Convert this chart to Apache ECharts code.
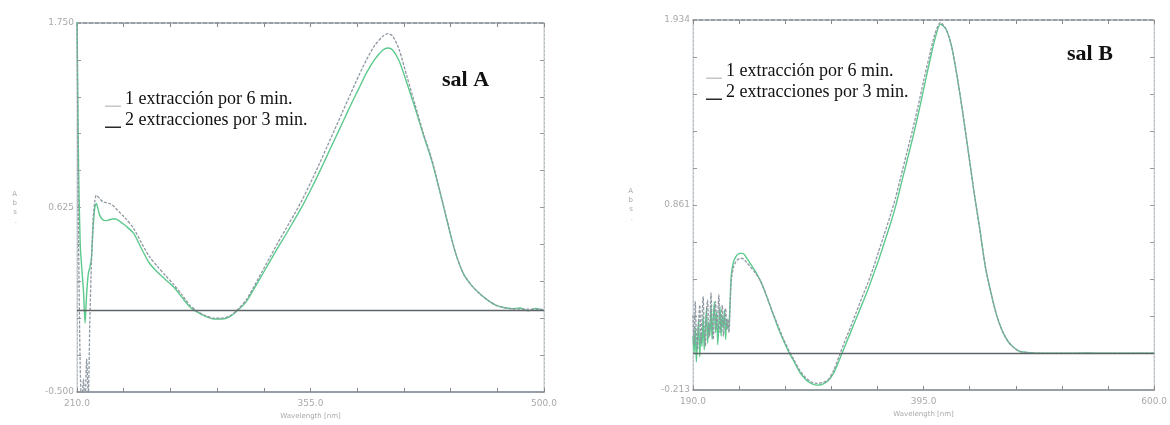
<!DOCTYPE html>
<html>
<head>
<meta charset="utf-8">
<script src="https://cdn.jsdelivr.net/npm/echarts@6/dist/echarts.min.js"></script>
<style>html,body{margin:0;padding:0;background:#fff;}#c{width:1170px;height:425px;}</style>
</head>
<body>
<div id="c"></div>
<script>
// ---------- DATA ----------
const seriesNames = ['1 extracción por 6 min.', '2 extracciones por 3 min.'];
const panelTitles = ['sal A', 'sal B'];

// sal A : wavelength (nm)
const wlA = [210, 210.5, 211, 212, 213, 214, 215, 216, 217, 218, 219, 220, 221, 222,
  224, 226, 228, 230, 232, 234, 236, 238, 240,
  245, 250, 255, 260, 265, 270, 275, 280, 285, 290, 295, 300, 305, 310, 315, 320, 325, 330, 335, 340,
  345, 350, 355, 360, 365, 370, 375, 380, 385, 390, 395, 400,
  403, 406,
  410, 415, 420, 425, 430, 435, 440, 445, 450, 455, 460, 465, 470, 475, 480, 485, 490, 495, 500];
const absA1 = [1.80, 1.10, 0.40, -0.35, -0.60, -0.42, -0.58, -0.30, -0.52, -0.05, 0.30, 0.55, 0.66, 0.70,
  0.68, 0.66, 0.655, 0.65, 0.64, 0.62, 0.60, 0.58, 0.56,
  0.50, 0.41, 0.325, 0.265, 0.21, 0.155, 0.095, 0.03, -0.01, -0.035, -0.05, -0.05, -0.035, 0.005, 0.06, 0.145, 0.235, 0.325, 0.415, 0.50,
  0.585, 0.675, 0.775, 0.88, 0.99, 1.10, 1.21, 1.32, 1.43, 1.53, 1.615, 1.67,
  1.685, 1.67,
  1.59, 1.42, 1.25, 1.08, 0.93, 0.74, 0.54, 0.35, 0.22, 0.15, 0.10, 0.06, 0.03, 0.015, 0.008, 0.005, 0.005, 0.004, 0.004];
const absA2 = [1.80, 1.30, 0.85, 0.40, 0.25, 0.12, -0.08, 0.10, 0.22, 0.26, 0.32, 0.50, 0.62, 0.65,
  0.58, 0.55, 0.545, 0.55, 0.555, 0.555, 0.545, 0.53, 0.515,
  0.47, 0.375, 0.285, 0.23, 0.185, 0.14, 0.08, 0.02, -0.015, -0.04, -0.055, -0.055, -0.04, 0.0, 0.05, 0.13, 0.215, 0.30, 0.385, 0.465,
  0.55, 0.635, 0.73, 0.83, 0.935, 1.04, 1.145, 1.25, 1.35, 1.45, 1.53, 1.585,
  1.598, 1.585,
  1.52, 1.38, 1.23, 1.07, 0.92, 0.735, 0.535, 0.35, 0.22, 0.15, 0.10, 0.06, 0.03, 0.015, 0.008, 0.012, -0.005, 0.01, -0.004];

// sal B : wavelength (nm)
const wlB = [190, 191, 192, 193, 194, 195, 196, 197, 198, 199, 200, 201, 202, 203, 204, 205, 206, 207, 208, 209,
  210, 211, 212, 213, 214, 215, 216, 217, 218, 219, 220, 221, 222,
  223, 224, 226, 228, 230, 232, 234, 236, 238, 240,
  245, 250, 255, 260, 265, 270, 275, 280, 285, 290, 295, 300, 305, 310, 315, 320, 325, 330, 335, 340,
  345, 350, 355, 360, 365, 370, 375, 380, 385, 390, 395, 400, 405, 410, 415, 420, 425, 430, 435, 440,
  445, 450, 455, 460, 465, 470, 475, 480,
  490, 500, 520, 540, 560, 580, 600];
const absB1 = [0.22, 0.05, 0.30, 0.10, 0.02, 0.18, 0.28, 0.06, 0.20, 0.33, 0.12, 0.04, 0.25, 0.31, 0.09, 0.15, 0.35, 0.18, 0.08, 0.24,
  0.30, 0.14, 0.22, 0.34, 0.12, 0.20, 0.28, 0.10, 0.18, 0.26, 0.14, 0.20, 0.12,
  0.28, 0.42, 0.50, 0.53, 0.545, 0.55, 0.55, 0.54, 0.525, 0.51,
  0.47, 0.42, 0.34, 0.25, 0.17, 0.09, 0.02, -0.04, -0.10, -0.14, -0.165, -0.175, -0.17, -0.155, -0.10, -0.015, 0.07, 0.15, 0.235, 0.32,
  0.40, 0.49, 0.59, 0.69, 0.79, 0.90, 1.03, 1.16, 1.29, 1.43, 1.58, 1.72, 1.85, 1.92, 1.88, 1.78, 1.60, 1.39, 1.16, 0.93,
  0.72, 0.50, 0.35, 0.22, 0.13, 0.07, 0.035, 0.012,
  0.002, 0.0, 0.0, 0.0, 0.0, 0.0, 0.0];
const absB2 = [0.10, 0.00, 0.15, -0.05, 0.08, 0.20, -0.02, 0.12, 0.04, 0.22, 0.02, 0.14, 0.26, 0.06, 0.18, 0.10, 0.28, 0.08, 0.20, 0.30,
  0.12, 0.24, 0.05, 0.18, 0.27, 0.10, 0.22, 0.15, 0.25, 0.08, 0.20, 0.14, 0.16,
  0.30, 0.45, 0.53, 0.56, 0.575, 0.58, 0.58, 0.57, 0.55, 0.53,
  0.48, 0.42, 0.34, 0.25, 0.16, 0.08, 0.01, -0.05, -0.11, -0.15, -0.175, -0.185, -0.18, -0.16, -0.115, -0.04, 0.04, 0.12, 0.20, 0.28,
  0.36, 0.45, 0.54, 0.64, 0.74, 0.85, 0.98, 1.11, 1.24, 1.38, 1.53, 1.68, 1.82, 1.91, 1.88, 1.78, 1.60, 1.39, 1.16, 0.93,
  0.72, 0.50, 0.35, 0.22, 0.13, 0.07, 0.035, 0.012,
  0.003, 0.0, 0.0, 0.002, 0.0, 0.0, 0.0];

// tick labels
const xTicksA = [210, 355, 500];
const yTicksA = [-0.5, 0.625, 1.75];
const xTicksB = [190, 395, 600];
const yTicksB = [-0.213, 0.861, 1.934];

// ---------- CHART ----------
const pairs = (xs, ys) => xs.map((x, i) => [x, ys[i]]);
const minorTicks = (a, b) => { const r = []; for (let i = 0; i <= 10; i++) r.push(a + (b - a) * i / 10); return r; };

const GRAY = '#8f98a3';
const GREEN = '#5cc98d';
const labelStyle = { color: '#a9a9a9', fontSize: 9, fontFamily: 'DejaVu Sans' };

function xAxisFor(gi, ticks, top) {
  const a = ticks[0], b = ticks[ticks.length - 1];
  return {
    type: 'value', gridIndex: gi, min: a, max: b, position: top ? 'top' : 'bottom',
    name: top ? '' : 'Wavelength [nm]', nameLocation: 'middle', nameGap: 21,
    nameTextStyle: { color: '#aaa', fontSize: 7, fontFamily: 'DejaVu Sans' },
    axisLine: { show: true, onZero: false, lineStyle: { color: '#7f8790', width: 1.5, type: top ? [4, 2] : 'solid' } },
    axisTick: { show: true, inside: true, length: 4, customValues: minorTicks(a, b), lineStyle: { color: '#888' } },
    axisLabel: { show: !top, customValues: ticks, formatter: v => v.toFixed(1), margin: 7, ...labelStyle },
    splitLine: { show: false }
  };
}
function yAxisFor(gi, ticks, right) {
  const a = ticks[0], b = ticks[ticks.length - 1];
  return {
    type: 'value', gridIndex: gi, min: a, max: b, position: right ? 'right' : 'left',
    name: right ? '' : 'A\nb\ns\n.', nameLocation: 'middle', nameGap: 60, nameRotate: 0,
    nameTextStyle: { color: '#aaa', fontSize: 7, lineHeight: 9, fontFamily: 'DejaVu Sans' },
    axisLine: { show: true, onZero: false, lineStyle: { color: '#b5bcc2', width: 1, type: [2, 2] } },
    axisTick: { show: true, inside: true, length: 4, customValues: minorTicks(a, b), lineStyle: { color: '#999' } },
    axisLabel: { show: !right, customValues: ticks, formatter: v => v.toFixed(3), margin: 3, ...labelStyle },
    splitLine: { show: false }
  };
}
function lineSeries(name, data, xi, yi, color, dashed, withZero) {
  const s = {
    name, type: 'line', data, xAxisIndex: xi, yAxisIndex: yi, showSymbol: false, symbol: 'none',
    smooth: 0.25, color,
    lineStyle: { color, width: dashed ? 1.3 : 1.4, type: dashed ? [3, 1.5] : 'solid' },
    z: dashed ? 3 : 2, silent: true, animation: false
  };
  if (withZero) {
    s.markLine = {
      silent: true, symbol: 'none', label: { show: false },
      lineStyle: { color: '#5f6468', width: 1.3, type: 'solid' },
      data: [{ yAxis: 0 }]
    };
  }
  return s;
}
const iconPath = 'path://M0,0 L0.001,0 L0.001,0.001 L0,0.001 Z M0,14.5 L16,14.5 L16,16 L0,16 Z';
function legendFor(left, top) {
  return {
    orient: 'vertical', left, top, itemWidth: 16, itemHeight: 16, itemGap: 3,
    icon: iconPath, selectedMode: false,
    textStyle: { fontFamily: 'Liberation Serif', fontSize: 18, color: '#111', padding: [0, 0, 0, -1] },
    data: [
      { name: seriesNames[0], itemStyle: { color: '#c6c6c6', borderWidth: 0 } },
      { name: seriesNames[1], itemStyle: { color: '#2a2a2a', borderWidth: 0 } }
    ]
  };
}

const chart = echarts.init(document.getElementById('c'), null, { renderer: 'canvas' });
chart.setOption({
  backgroundColor: '#ffffff',
  animation: false,
  grid: [
    { left: 77, top: 23, width: 467, height: 369, show: true, borderColor: '#c9ced2', borderWidth: 1 },
    { left: 693, top: 20, width: 469, height: 370, show: true, borderColor: '#c9ced2', borderWidth: 1 }
  ],
  xAxis: [xAxisFor(0, xTicksA, false), xAxisFor(0, xTicksA, true), xAxisFor(1, xTicksB, false), xAxisFor(1, xTicksB, true)],
  yAxis: [yAxisFor(0, yTicksA, false), yAxisFor(0, yTicksA, true), yAxisFor(1, yTicksB, false), yAxisFor(1, yTicksB, true)],
  legend: [legendFor(100, 85), legendFor(701, 57)],
  title: [
    { text: panelTitles[0], left: 437, top: 64, textStyle: { fontFamily: 'Liberation Serif', fontSize: 22, fontWeight: 'bold', color: '#111' } },
    { text: panelTitles[1], left: 1062, top: 38, textStyle: { fontFamily: 'Liberation Serif', fontSize: 22, fontWeight: 'bold', color: '#111' } }
  ],
  series: [
    lineSeries(seriesNames[1], pairs(wlA, absA2), 0, 0, GREEN, false, true),
    lineSeries(seriesNames[0], pairs(wlA, absA1), 0, 0, GRAY, true, false),
    lineSeries(seriesNames[1], pairs(wlB, absB2), 2, 2, GREEN, false, true),
    lineSeries(seriesNames[0], pairs(wlB, absB1), 2, 2, GRAY, true, false)
  ]
});
</script>
</body>
</html>
